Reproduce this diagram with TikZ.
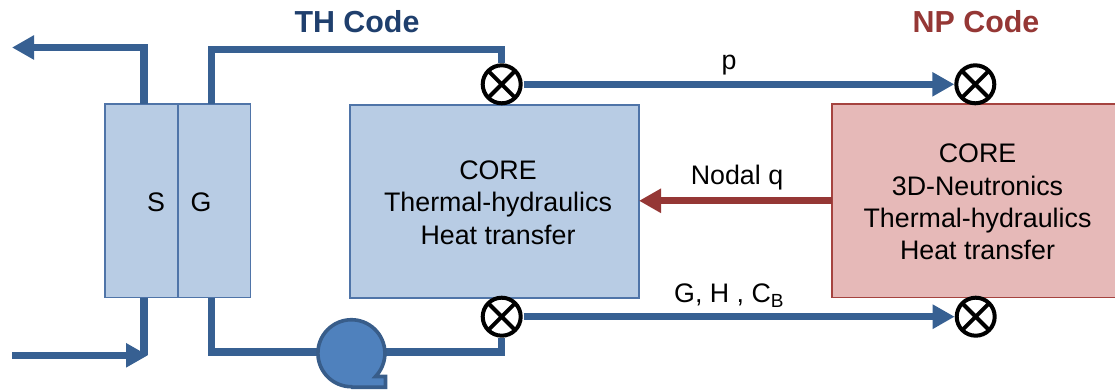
\documentclass[tikz,border=0pt]{standalone}
\usepackage{fontspec}
\setmainfont{Liberation Sans}
\usetikzlibrary{arrows.meta}
\definecolor{pipeblue}{HTML}{376092}
\definecolor{boxblue}{HTML}{B8CCE4}
\definecolor{edgeblue}{HTML}{4F74A8}
\definecolor{boxred}{HTML}{E6B9B8}
\definecolor{edgered}{HTML}{A5433F}
\definecolor{arrowred}{HTML}{953735}
\definecolor{pumpfill}{HTML}{4F81BD}
\definecolor{pumpedge}{HTML}{385D8A}
\definecolor{thtitle}{HTML}{1F3F6D}
\tikzset{
  x=1pt, y=-1pt,
  txt/.style={font=\fontsize{26.8}{32.3}\selectfont, align=center, inner sep=0pt, text=black},
  title/.style={font=\fontsize{30.4}{34}\selectfont\bfseries, inner sep=0pt},
  bluebox/.style={draw=edgeblue, fill=boxblue, line width=1.6pt, rectangle, inner sep=0pt, outer sep=0pt},
  redbox/.style={draw=edgered, fill=boxred, line width=1.6pt, rectangle, inner sep=0pt, outer sep=0pt},
  pipe/.style={draw=pipeblue, line width=7.2pt, line join=miter},
  flow/.style={pipe, -{Triangle[length=22pt,width=23pt]}},
  redflow/.style={draw=arrowred, line width=7.2pt, -{Triangle[length=22pt,width=23pt]}},
  valve/.style={circle, draw=black, fill=white, line width=4pt, minimum size=38pt, inner sep=0pt,
    path picture={\draw[black, line width=4pt]
      (path picture bounding box.north west) -- (path picture bounding box.south east)
      (path picture bounding box.north east) -- (path picture bounding box.south west);}}
}
\begin{document}
\begin{tikzpicture}
\useasboundingbox (0,0) rectangle (1115,390);

% boxes
\node[bluebox, minimum width=73pt, minimum height=193pt] (sbox) at (141.5,200.8) {};
\node[bluebox, minimum width=72pt, minimum height=193pt] (gbox) at (214.5,200.8) {};
\node[bluebox, minimum width=289pt, minimum height=193pt] (core) at (494.5,201.3) {};
\node[redbox, minimum width=284pt, minimum height=193pt] (np) at (974,200.8) {};

% free ends and corners
\coordinate (sTop) at (144,104);
\coordinate (sTopCorner) at (144,47.5);
\coordinate (outEnd) at (12,47.5);
\coordinate (gTop) at (211.5,104);
\coordinate (gTopCorner) at (211.5,49.5);
\coordinate (sBot) at (144,298);
\coordinate (sBotCorner) at (144,355.3);
\coordinate (inStart) at (12,355.3);
\coordinate (inEnd) at (148,355.3);
\coordinate (gBot) at (211.5,298);
\coordinate (gBotCorner) at (211.5,352);
\coordinate (v2Corner) at (501.7,352);

% valves
\node[valve] (v1) at (501.7,84.3) {};
\node[valve] (v2) at (501.7,316.7) {};
\node[valve] (v3) at (975.3,84.3) {};
\node[valve] (v4) at (975.7,316.7) {};

% pump reference node
\node[circle, minimum size=70pt, inner sep=0pt, outer sep=0pt] (pump) at (352,353.7) {};

% pipes
\draw[pipe, -{Triangle[length=22pt,width=23pt]}] (sTop) -- (sTopCorner) -- (outEnd);
\draw[pipe] (gTop) -- (gTopCorner) -| (v1.north);
\draw[pipe] (sBot) -- (sBotCorner);
\draw[flow] (inStart) -- (inEnd);
\draw[pipe] (gBot) -- (gBotCorner) -- (v2Corner) -- (v2.south);

% pump
\draw[draw=pumpedge, fill=pumpfill, line width=3.6pt, line join=miter]
  (352,387.2) -- (385.5,387.2) -- (385.5,376.5) -- (375.5,376.5)
  arc[start angle=-44, end angle=270, radius=33.5pt] -- cycle;

% signals
\draw[flow] (v1.east) ++(1,0) -- (v3.west);
\draw[flow] (v2.east) ++(1,0) -- (v4.west);
\draw[redflow] (np.west) -- (np.west -| core.east);

% text
\node[title, text=thtitle] (thT) at (357,22) {TH Code};
\node[title, text=arrowred] (npT) at (976,22) {NP Code};
\node[txt] (sL) at (156,202) {S};
\node[txt] (gL) at (201,202) {G};
\node[txt] (coreT) at (498,202.5) {CORE\\Thermal-hydraulics\\Heat transfer};
\node[txt] (npTxt) at (977.5,202) {CORE\\3D-Neutronics\\Thermal-hydraulics\\Heat transfer};
\node[txt] (pL) at (729,65) {p};
\node[txt] (qL) at (737,178) {Nodal q};
\node[txt, anchor=base west] (fL) at (674,302) {G, H , C\raisebox{-5pt}{\fontsize{19}{19}\selectfont B}};
\end{tikzpicture}
\end{document}
